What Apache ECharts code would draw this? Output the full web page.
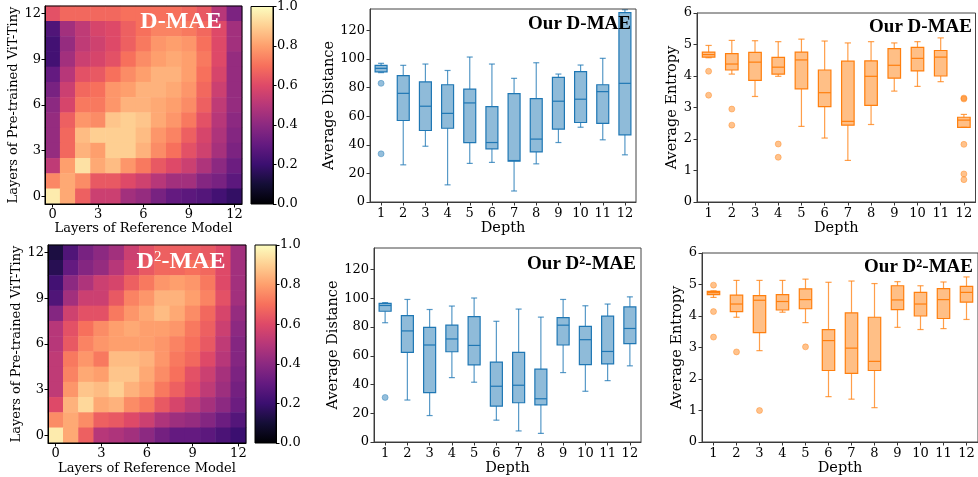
<!DOCTYPE html>
<html>
<head>
<meta charset="utf-8">
<script src="https://cdn.jsdelivr.net/npm/echarts@6/dist/echarts.min.js"></script>
<style>
html,body{margin:0;padding:0;background:#fff;}
#chart{width:978px;height:477px;}
</style>
</head>
<body>
<div id="chart"></div>
<script>
// ---------- DATA ----------
const heatLabels = ['0','1','2','3','4','5','6','7','8','9','10','11','12'];
const depthCats = ['1','2','3','4','5','6','7','8','9','10','11','12'];
const colorbarRange = [0, 1];

// D-MAE similarity rows, listed from top (layer 12) to bottom (layer 0); columns = reference layers 0..12
const dmaeRows = [
  [0.62,0.68,0.68,0.68,0.68,0.70,0.70,0.70,0.70,0.68,0.64,0.50,0.36],
  [0.25,0.45,0.52,0.58,0.60,0.66,0.70,0.74,0.74,0.72,0.68,0.60,0.45],
  [0.22,0.42,0.52,0.56,0.60,0.66,0.72,0.78,0.80,0.78,0.70,0.60,0.45],
  [0.22,0.45,0.55,0.58,0.62,0.70,0.76,0.80,0.82,0.80,0.72,0.60,0.42],
  [0.30,0.50,0.62,0.64,0.70,0.76,0.80,0.84,0.84,0.80,0.70,0.58,0.42],
  [0.35,0.55,0.68,0.70,0.78,0.80,0.84,0.84,0.82,0.78,0.68,0.55,0.42],
  [0.40,0.58,0.72,0.72,0.78,0.84,0.84,0.82,0.80,0.76,0.66,0.52,0.42],
  [0.42,0.66,0.78,0.76,0.88,0.90,0.88,0.82,0.78,0.72,0.62,0.50,0.40],
  [0.42,0.68,0.86,0.90,0.90,0.90,0.86,0.78,0.74,0.66,0.58,0.48,0.38],
  [0.42,0.68,0.84,0.80,0.90,0.90,0.84,0.76,0.70,0.62,0.56,0.46,0.36],
  [0.52,0.80,0.94,0.82,0.86,0.78,0.72,0.64,0.60,0.55,0.48,0.40,0.32],
  [0.75,0.82,0.76,0.64,0.64,0.60,0.56,0.50,0.45,0.45,0.38,0.35,0.28],
  [0.96,0.82,0.66,0.55,0.55,0.45,0.42,0.35,0.30,0.28,0.26,0.22,0.18]
];
// D2-MAE similarity rows, top (layer 12) to bottom (layer 0)
const d2maeRows = [
  [0.12,0.25,0.35,0.40,0.45,0.55,0.62,0.66,0.66,0.66,0.64,0.60,0.45],
  [0.15,0.30,0.38,0.42,0.50,0.58,0.64,0.68,0.68,0.70,0.68,0.60,0.45],
  [0.22,0.40,0.48,0.55,0.58,0.66,0.72,0.78,0.80,0.78,0.72,0.60,0.45],
  [0.25,0.45,0.55,0.55,0.64,0.74,0.78,0.84,0.84,0.80,0.74,0.62,0.45],
  [0.38,0.56,0.62,0.62,0.72,0.78,0.82,0.86,0.82,0.76,0.68,0.58,0.42],
  [0.50,0.62,0.70,0.76,0.80,0.82,0.80,0.80,0.78,0.72,0.66,0.55,0.40],
  [0.50,0.64,0.74,0.78,0.80,0.80,0.80,0.78,0.74,0.70,0.64,0.52,0.38],
  [0.52,0.72,0.78,0.72,0.86,0.86,0.84,0.78,0.72,0.68,0.60,0.50,0.38],
  [0.52,0.74,0.82,0.80,0.88,0.88,0.82,0.76,0.70,0.62,0.55,0.46,0.36],
  [0.52,0.78,0.88,0.86,0.90,0.84,0.80,0.72,0.66,0.60,0.52,0.44,0.34],
  [0.60,0.84,0.92,0.82,0.84,0.76,0.72,0.64,0.58,0.52,0.46,0.40,0.32],
  [0.76,0.82,0.76,0.66,0.64,0.60,0.55,0.48,0.44,0.42,0.38,0.32,0.26],
  [0.96,0.82,0.66,0.50,0.48,0.45,0.40,0.34,0.30,0.30,0.28,0.24,0.20]
];

// Box stats per depth: [min, Q1, median, Q3, max]
const distDmae = [
  [90.5,91,93.5,95.5,97],[26,57,76,88.4,95.6],[39,50,67,84,96.5],[12,51.6,62,82,92],
  [27,41.6,69.3,79,101.4],[27.7,37.2,41.6,66.7,96.5],[7.7,28.6,29,75.8,86.5],[26.7,35,44,72.3,97.4],
  [41.6,51,70.5,87.2,89.5],[52.3,55.6,71.9,91.2,95.8],[43.5,55,77.2,82,100.5],[33,47,83,132.5,134.5]
];
const distDmaeOut = [[0,83],[0,33.7]];

const distD2mae = [
  [83,91,95,96.5,97],[29.2,62.3,77.3,88,99.2],[18.4,34.3,67.5,79.8,92.2],[44.8,62.8,71.7,81.3,94.6],
  [41.6,53.7,67.2,87.3,100.2],[15.2,25,38.8,55.6,84],[7.7,27.3,39.5,62.3,92.5],[6,25.9,30.1,50.7,86.9],
  [48.3,67.5,81.3,86.6,99.2],[35.3,53.9,71.2,80.5,94.8],[42.7,54.4,63,87.6,96],[53,68.4,79,94,101]
];
const distD2maeOut = [[0,31]];

const entDmae = [
  [4.58,4.6,4.68,4.76,4.97],[4.06,4.19,4.38,4.71,5.13],[3.35,3.86,4.44,4.75,5.12],[3.99,4.06,4.28,4.59,5.09],
  [2.4,3.59,4.51,4.76,5.17],[2.03,3.03,3.47,4.19,5.11],[1.32,2.44,2.56,4.47,5.05],[2.46,3.07,3.99,4.48,5.09],
  [3.52,3.93,4.34,4.87,5.05],[3.67,4.16,4.56,4.91,5.09],[3.82,4.0,4.6,4.81,5.21],[2.37,2.37,2.6,2.69,2.78]
];
const entDmaeOut = [[0,4.15],[0,3.39],[1,2.95],[1,2.44],[3,1.84],[3,1.42],[11,3.3],[11,3.27],[11,1.83],[11,0.89],[11,0.71]];

const entD2mae = [
  [4.59,4.68,4.74,4.78,4.8],[3.96,4.14,4.38,4.66,5.13],[2.9,3.47,4.5,4.65,5.13],[4.12,4.19,4.46,4.68,5.13],
  [3.79,4.23,4.52,4.86,5.17],[1.44,2.27,3.22,3.57,5.07],[1.36,2.18,2.98,4.1,5.11],[1.09,2.27,2.56,3.96,5.03],
  [3.64,4.2,4.51,4.96,5.09],[3.57,4.0,4.38,4.75,4.96],[3.6,3.92,4.52,4.87,5.08],[3.89,4.44,4.75,4.94,5.24]
];
const entD2maeOut = [[0,4.98],[0,4.14],[0,3.33],[1,2.86],[2,1.0],[4,3.02]];

// ---------- BUILD ----------
const magma = ['#000004','#140e36','#3b0f70','#641a80','#8c2981','#b73779','#de4968','#f7705c','#fe9f6d','#fecf92','#fcfdbf'];
const SERIF = "'DejaVu Serif', serif";
const TIMES = "'Liberation Serif', 'Times New Roman', serif";

function heatData(rows){
  const out = [];
  rows.forEach((row, r) => row.forEach((v, c) => out.push([c, 12 - r, v])));
  return out;
}
function boxData(stats){ return stats.map((s, i) => [i].concat(s)); }

function makeBoxRender(stroke, fill, whisk){
  return function(params, api){
    const x = api.value(0);
    const p = [1,2,3,4,5].map(d => api.coord([x, api.value(d)]));
    const band = api.size([1, 0])[0];
    const bw = band * 0.54, cw = band * 0.27;
    const cx = p[2][0];
    const lw = 1.2;
    const ws = {stroke: whisk, lineWidth: lw};
    return {type:'group', children:[
      {type:'line', shape:{x1:cx,y1:p[3][1],x2:cx,y2:p[4][1]}, style:ws},
      {type:'line', shape:{x1:cx,y1:p[1][1],x2:cx,y2:p[0][1]}, style:ws},
      {type:'line', shape:{x1:cx-cw/2,y1:p[4][1],x2:cx+cw/2,y2:p[4][1]}, style:ws},
      {type:'line', shape:{x1:cx-cw/2,y1:p[0][1],x2:cx+cw/2,y2:p[0][1]}, style:ws},
      {type:'rect', shape:{x:cx-bw/2,y:p[3][1],width:bw,height:p[1][1]-p[3][1]}, style:{fill:fill, stroke:stroke, lineWidth:lw}},
      {type:'line', shape:{x1:cx-bw/2,y1:p[2][1],x2:cx+bw/2,y2:p[2][1]}, style:{stroke:stroke, lineWidth:lw}}
    ]};
  };
}

const tickLab = {fontFamily: SERIF, fontSize: 13, color: '#000'};
const nameSty = {fontFamily: SERIF, fontSize: 14.5, color: '#000'};

const grids = [
  {left:45, top:6, width:197, height:198},
  {left:48, top:245, width:198, height:198},
  {left:251, top:6, width:22, height:198},
  {left:255, top:245, width:21, height:198},
  {left:370, top:9, width:266, height:193},
  {left:374, top:248, width:267, height:194},
  {left:697, top:13, width:278.5, height:189},
  {left:702, top:253, width:278, height:189}
].map(g => Object.assign({show:true, borderColor:'#000', borderWidth:1, backgroundColor:'transparent', z:3, containLabel:false}, g));
grids.slice(4).forEach(g => g.borderColor = '#444');

function heatX(gi, gap){
  return {type:'category', gridIndex:gi, data:heatLabels, z:3,
    axisLine:{show:true, lineStyle:{color:'#000'}},
    axisTick:{show:true, interval:2, alignWithLabel:true, length:3.5, lineStyle:{color:'#000'}},
    axisLabel:{interval:2, margin:4, fontFamily:SERIF, fontSize:13, color:'#000'},
    splitLine:{show:false},
    name:'Layers of Reference Model', nameLocation:'middle', nameGap:gap,
    nameTextStyle:{fontFamily:SERIF, fontSize:13, color:'#000'}};
}
function heatY(gi, gap){
  return {type:'category', gridIndex:gi, data:heatLabels, z:3,
    axisLine:{show:true, lineStyle:{color:'#000'}},
    axisTick:{show:true, interval:2, alignWithLabel:true, length:3.5, lineStyle:{color:'#000'}},
    axisLabel:{interval:2, margin:4, fontFamily:SERIF, fontSize:13, color:'#000'},
    splitLine:{show:false},
    name:'Layers of Pre-trained ViT-Tiny', nameLocation:'middle', nameGap:gap,
    nameTextStyle:{fontFamily:SERIF, fontSize:13, color:'#000'}};
}
function cbX(gi){ return {type:'category', gridIndex:gi, data:['c'], show:false, boundaryGap:true}; }
function cbY(gi){
  return {type:'value', gridIndex:gi, position:'right', min:colorbarRange[0], max:colorbarRange[1], interval:0.2, z:3,
    axisLine:{show:true, lineStyle:{color:'#000'}},
    axisTick:{show:true, length:3.5, lineStyle:{color:'#000'}},
    axisLabel:{margin:4, formatter:v => v.toFixed(1), fontFamily:SERIF, fontSize:13, color:'#000'},
    splitLine:{show:false}};
}
function boxX(gi, gap){
  return {type:'category', gridIndex:gi, data:depthCats,
    axisLine:{show:true, lineStyle:{color:'#333'}},
    axisTick:{show:true, alignWithLabel:true, length:3.5, lineStyle:{color:'#333'}},
    axisLabel:Object.assign({margin:5, interval:0}, tickLab),
    splitLine:{show:false},
    name:'Depth', nameLocation:'middle', nameGap:gap, nameTextStyle:nameSty};
}
function boxY(gi, max, interval, name, gap){
  return {type:'value', gridIndex:gi, min:0, max:max, interval:interval,
    axisLine:{show:true, lineStyle:{color:'#333'}},
    axisTick:{show:true, length:3.5, lineStyle:{color:'#333'}},
    axisLabel:Object.assign({margin:5, showMaxLabel: max % interval === 0}, tickLab),
    splitLine:{show:false},
    name:name, nameLocation:'middle', nameGap:gap, nameTextStyle:nameSty};
}

const blue = '#1f77b4', blueFill = 'rgba(31,119,180,0.5)', blueWhisk = 'rgba(31,119,180,0.75)';
const orange = '#ff7f0e', orangeFill = 'rgba(255,127,14,0.5)', orangeWhisk = 'rgba(255,127,14,0.75)';

function cbGradient(){
  return new echarts.graphic.LinearGradient(0, 0, 0, 1,
    magma.slice().reverse().map((c, i) => ({offset: i / (magma.length - 1), color: c})));
}

function boxSeries(ai, stats, stroke, fill, whisk){
  return {type:'custom', xAxisIndex:ai, yAxisIndex:ai, data:boxData(stats),
    encode:{x:0, y:[1,2,3,4,5]}, renderItem:makeBoxRender(stroke, fill, whisk), z:2};
}
function outSeries(ai, pts, color, border){
  return {type:'scatter', xAxisIndex:ai, yAxisIndex:ai, data:pts, symbolSize:6,
    itemStyle:{color:color, borderColor:border, borderWidth:1}, z:3};
}

const option = {
  animation:false,
  backgroundColor:'#fff',
  grid:grids,
  xAxis:[heatX(0,18), heatX(1,19), cbX(2), cbX(3), boxX(4,17), boxX(5,18), boxX(6,18), boxX(7,18)],
  yAxis:[heatY(0,24), heatY(1,23), cbY(2), cbY(3),
         boxY(4,135,20,'Average Distance',30), boxY(5,135,20,'Average Distance',31),
         boxY(6,6,1,'Average Entropy',15), boxY(7,6,1,'Average Entropy',17)],
  visualMap:{type:'continuous', show:false, min:0, max:1, dimension:2, seriesIndex:[0,1], inRange:{color:magma}},
  series:[
    {type:'heatmap', xAxisIndex:0, yAxisIndex:0, data:heatData(dmaeRows), itemStyle:{borderWidth:0}, z:1},
    {type:'heatmap', xAxisIndex:1, yAxisIndex:1, data:heatData(d2maeRows), itemStyle:{borderWidth:0}, z:1},
    {type:'bar', xAxisIndex:2, yAxisIndex:2, data:[colorbarRange[1]], barWidth:'100%', itemStyle:{color:cbGradient()}, z:1},
    {type:'bar', xAxisIndex:3, yAxisIndex:3, data:[colorbarRange[1]], barWidth:'100%', itemStyle:{color:cbGradient()}, z:1},
    boxSeries(4, distDmae, blue, blueFill, blueWhisk),
    outSeries(4, distDmaeOut, 'rgba(31,119,180,0.6)', 'rgba(31,119,180,0.5)'),
    boxSeries(5, distD2mae, blue, blueFill, blueWhisk),
    outSeries(5, distD2maeOut, 'rgba(31,119,180,0.6)', 'rgba(31,119,180,0.5)'),
    boxSeries(6, entDmae, orange, orangeFill, orangeWhisk),
    outSeries(6, entDmaeOut, 'rgba(255,127,14,0.6)', 'rgba(255,127,14,0.5)'),
    boxSeries(7, entD2mae, orange, orangeFill, orangeWhisk),
    outSeries(7, entD2maeOut, 'rgba(255,127,14,0.6)', 'rgba(255,127,14,0.5)')
  ],
  graphic:[
    {type:'text', x:181, y:22, z:10, style:{text:'D-MAE', fill:'#fff', font:"bold 24px 'Liberation Serif', serif", textAlign:'center', textVerticalAlign:'middle'}},
    {type:'text', x:181, y:262, z:10, style:{text:'{a|D}{s|2}{a|-MAE}', fill:'#fff', textAlign:'center', textVerticalAlign:'middle',
      rich:{a:{fontFamily:TIMES, fontSize:24, fontWeight:'bold', color:'#fff'}, s:{fontFamily:TIMES, fontSize:15, color:'#fff', verticalAlign:'top'}}}},
    {type:'text', x:631, y:24, z:10, style:{text:'Our D-MAE', fill:'#000', font:"bold 19px 'Liberation Serif', serif", textAlign:'right', textVerticalAlign:'middle'}},
    {type:'text', x:972, y:27, z:10, style:{text:'Our D-MAE', fill:'#000', font:"bold 19px 'Liberation Serif', serif", textAlign:'right', textVerticalAlign:'middle'}},
    {type:'text', x:636, y:264, z:10, style:{text:'{a|Our D}{s|2}{a|-MAE}', fill:'#000', textAlign:'right', textVerticalAlign:'middle',
      rich:{a:{fontFamily:TIMES, fontSize:19, fontWeight:'bold', color:'#000'}, s:{fontFamily:TIMES, fontSize:12, fontWeight:'bold', color:'#000', verticalAlign:'top'}}}},
    {type:'text', x:973, y:267, z:10, style:{text:'{a|Our D}{s|2}{a|-MAE}', fill:'#000', textAlign:'right', textVerticalAlign:'middle',
      rich:{a:{fontFamily:TIMES, fontSize:19, fontWeight:'bold', color:'#000'}, s:{fontFamily:TIMES, fontSize:12, fontWeight:'bold', color:'#000', verticalAlign:'top'}}}}
  ]
};

const chart = echarts.init(document.getElementById('chart'), null, {renderer:'canvas'});
chart.setOption(option);
</script>
</body>
</html>
